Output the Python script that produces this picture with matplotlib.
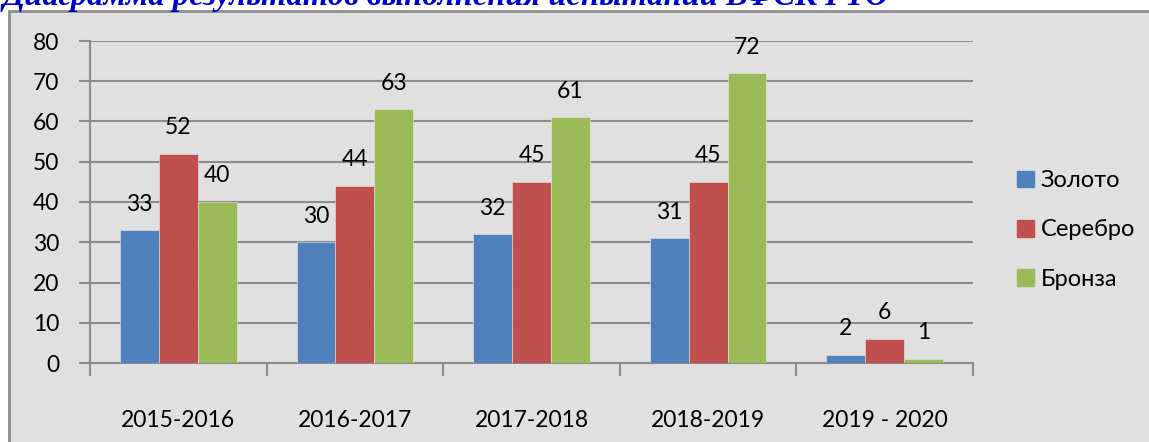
import matplotlib
matplotlib.use("Agg")
import matplotlib.pyplot as plt
import matplotlib.patches as mpatches
import numpy as np

categories = ["2015-2016", "2016-2017", "2017-2018", "2018-2019", "2019 - 2020"]
series_names = ["Золото", "Серебро", "Бронза"]
gold = [33, 30, 32, 31, 2]
silver = [52, 44, 45, 45, 6]
bronze = [40, 63, 61, 72, 1]
yticks = [0, 10, 20, 30, 40, 50, 60, 70, 80]
title = "Диаграмма результатов выполнения испытаний ВФСК ГТО"

colors = ["#4F81BD", "#C0504D", "#9BBB59"]
grid_c = "#8C8C8C"
bg_c = "#E0E0E0"
font = ["Lato", "DejaVu Sans"]

W, H = 1149, 442
fig = plt.figure(figsize=(W / 100, H / 100), dpi=100)
fig.patch.set_facecolor("white")

# chart area box
rect = mpatches.Rectangle((9 / W, -0.2), 1.2, 1.2 - 11 / H,
                          transform=fig.transFigure, facecolor=bg_c,
                          edgecolor=grid_c, linewidth=2.0, zorder=-5)
fig.patches.append(rect)

# title, cut off at the top edge as in the original
fig.text(2 / W, 1 - 5 / H, title, ha="left", va="baseline",
         fontsize=23.5, fontweight="bold", fontstyle="italic",
         family=["Liberation Serif", "DejaVu Serif"], color="#0000CC")

ax = fig.add_axes([90 / W, 1 - 363 / H, (973 - 90) / W, (363 - 41) / H])
ax.set_facecolor("none")

x = np.arange(len(categories))
bw = 0.22
data = [gold, silver, bronze]
for i, (vals, c, name) in enumerate(zip(data, colors, series_names)):
    pos = x + (i - 1) * bw
    ax.bar(pos, vals, width=bw, color=c, label=name, zorder=3,
           edgecolor="#E8E8E8", linewidth=0.4)
    for p, v in zip(pos, vals):
        ax.annotate(str(v), (p, v), xytext=(0, 26), textcoords="offset pixels",
                    ha="center", va="center", fontsize=16.5, family=font,
                    color="black", zorder=4)

ax.set_ylim(0, 80)
ax.set_xlim(-0.5, len(categories) - 0.5)
ax.set_yticks(yticks)
ax.set_yticklabels([str(t) for t in yticks], family=font, fontsize=16.5)
ax.yaxis.grid(True, color=grid_c, linewidth=1.5, zorder=1)
ax.set_axisbelow(True)

ax.set_xticks(np.arange(-0.5, len(categories), 1.0))
ax.set_xticklabels([])
ax.set_xticks(x, minor=True)
ax.set_xticklabels(categories, minor=True, family=font, fontsize=16.5)
ax.tick_params(axis="x", which="minor", length=0, pad=34)
ax.tick_params(axis="x", which="major", length=9, width=1.5, color=grid_c, direction="out")
ax.tick_params(axis="y", length=8, width=1.5, color=grid_c, direction="out", pad=14)

for s in ["top", "right"]:
    ax.spines[s].set_visible(False)
for s in ["left", "bottom"]:
    ax.spines[s].set_color(grid_c)
    ax.spines[s].set_linewidth(1.5)

handles = [mpatches.Patch(color=c) for c in colors]
fig.legend(handles, series_names, loc="center left",
           bbox_to_anchor=(996 / W, 1 - 230 / H),
           frameon=False, handlelength=0.7, handleheight=0.7,
           handletextpad=0.3, labelspacing=1.2,
           prop={"family": font, "size": 17})

fig.savefig("out.png", dpi=100, facecolor="white")
